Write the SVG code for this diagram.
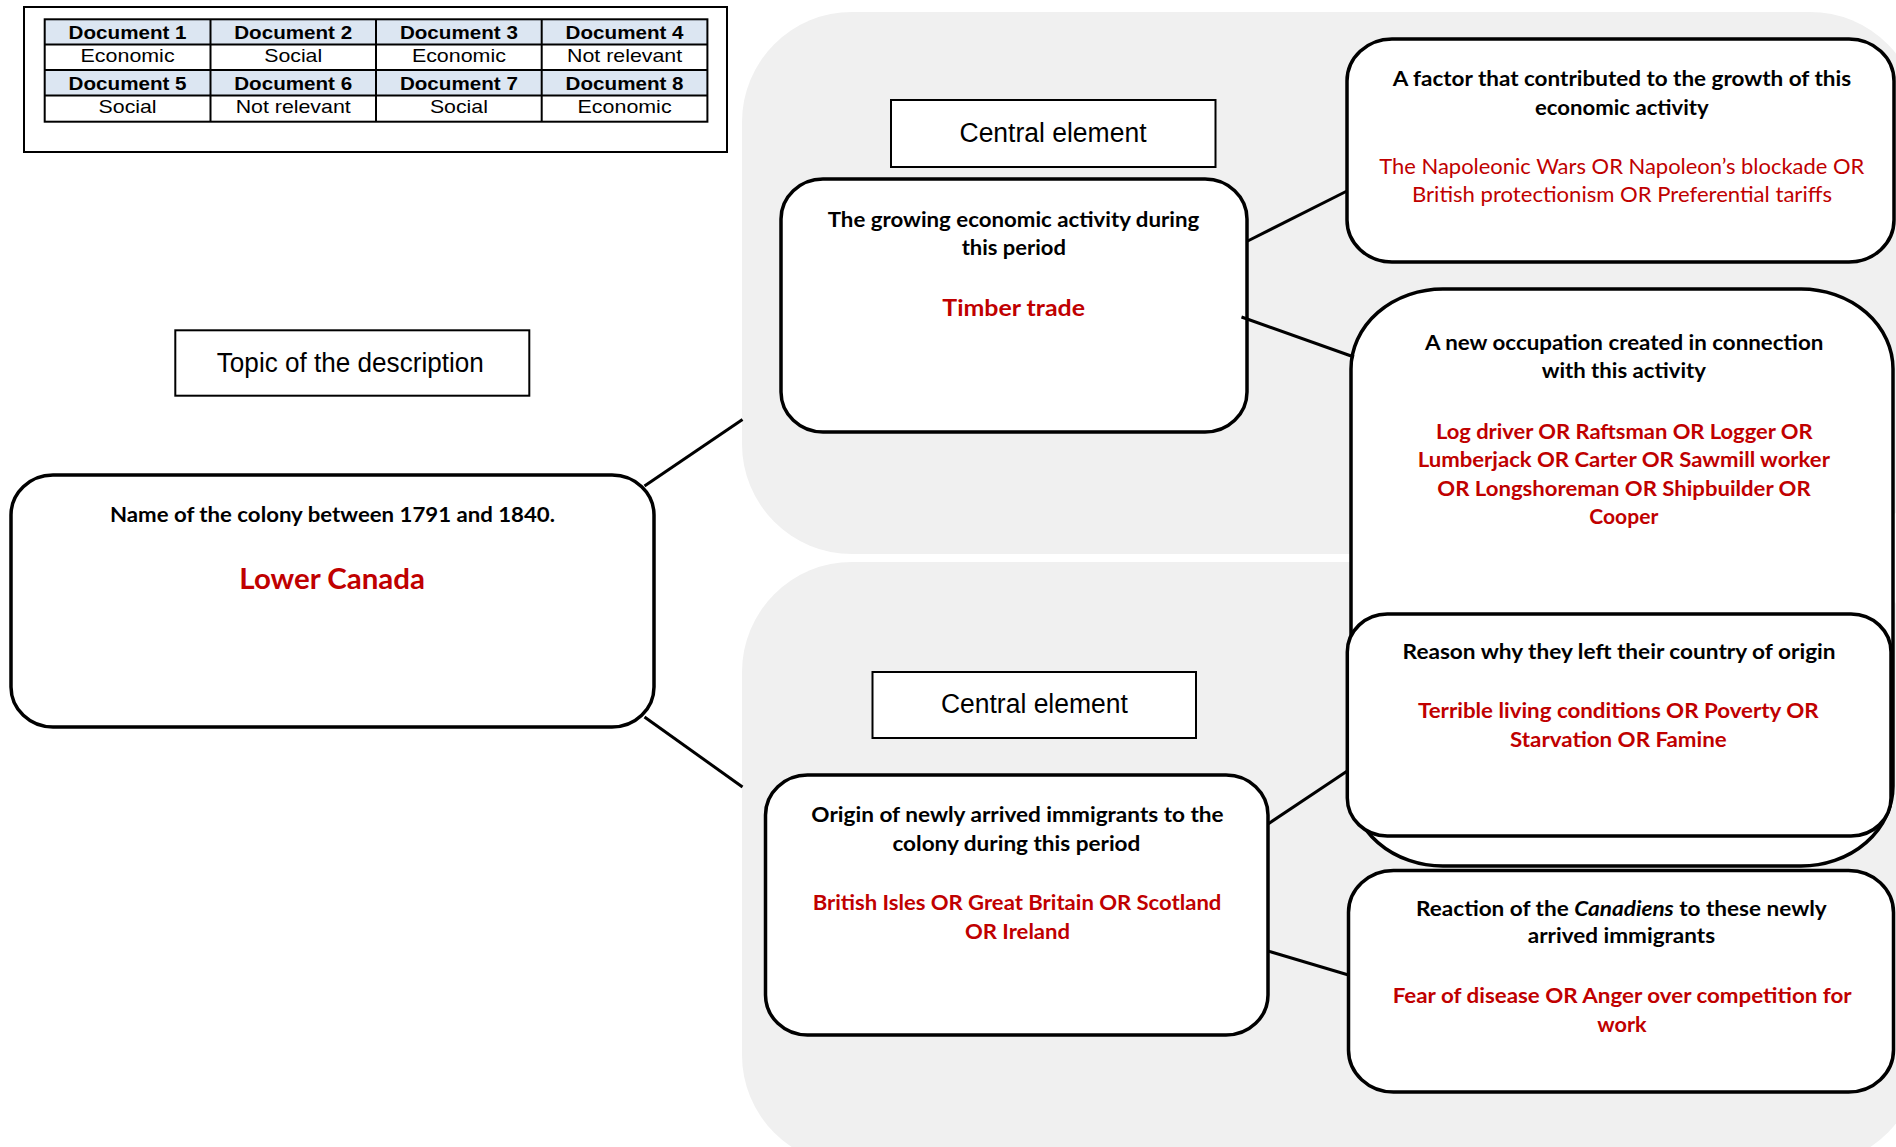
<svg xmlns="http://www.w3.org/2000/svg" width="1896" height="1147" viewBox="0 0 1896 1147">
<style>
.panel{fill:#F0F0F0}
.node{fill:#fff;stroke:#000;stroke-width:3.5}
.lbl{fill:#fff;stroke:#000;stroke-width:2}
.conn{stroke:#000;stroke-width:3;fill:none}
.grid{stroke:#000;stroke-width:2;fill:none}
.c{font-family:Lato,"Liberation Sans",sans-serif;text-anchor:middle;font-size:21px}
.bk{font-weight:700;fill:#000}
.rd{font-weight:700;fill:#C00000}
.rr{font-weight:400;fill:#C00000}
.a{font-family:"Liberation Sans",Arial,sans-serif;text-anchor:middle;fill:#000}
.th{font-weight:700;font-size:18.5px}
.td{font-weight:400;font-size:18.5px}
.big{font-size:27px}
</style>
<rect width="1896" height="1147" fill="#fff"/>
<g id="panels">
<rect class="panel" x="742" y="12" width="1178" height="542" rx="110" ry="110"/>
<rect class="panel" x="742" y="562" width="1178" height="603" rx="110" ry="110"/>
</g>
<g id="legend-table">
<rect x="24" y="7" width="703" height="145" fill="#fff" stroke="#000" stroke-width="2"/>
<rect x="44.7" y="19.3" width="662.7" height="25.2" fill="#DCE6F2"/>
<rect x="44.7" y="70" width="662.7" height="25.5" fill="#DCE6F2"/>
<rect class="grid" x="44.7" y="19.3" width="662.7" height="102.4"/>
<path class="grid" d="M44.7,44.5H707.4M44.7,70H707.4M44.7,95.5H707.4M210.5,19.3V121.7M376,19.3V121.7M541.7,19.3V121.7"/>
<text class="a th" x="127.6" y="39.3" textLength="118" lengthAdjust="spacingAndGlyphs">Document 1</text>
<text class="a th" x="293.2" y="39.3" textLength="118" lengthAdjust="spacingAndGlyphs">Document 2</text>
<text class="a th" x="458.9" y="39.3" textLength="118" lengthAdjust="spacingAndGlyphs">Document 3</text>
<text class="a th" x="624.6" y="39.3" textLength="118" lengthAdjust="spacingAndGlyphs">Document 4</text>
<text class="a td" x="127.6" y="62" textLength="94" lengthAdjust="spacingAndGlyphs">Economic</text>
<text class="a td" x="293.2" y="62" textLength="58" lengthAdjust="spacingAndGlyphs">Social</text>
<text class="a td" x="458.9" y="62" textLength="94" lengthAdjust="spacingAndGlyphs">Economic</text>
<text class="a td" x="624.6" y="62" textLength="115" lengthAdjust="spacingAndGlyphs">Not relevant</text>
<text class="a th" x="127.6" y="90" textLength="118" lengthAdjust="spacingAndGlyphs">Document 5</text>
<text class="a th" x="293.2" y="90" textLength="118" lengthAdjust="spacingAndGlyphs">Document 6</text>
<text class="a th" x="458.9" y="90" textLength="118" lengthAdjust="spacingAndGlyphs">Document 7</text>
<text class="a th" x="624.6" y="90" textLength="118" lengthAdjust="spacingAndGlyphs">Document 8</text>
<text class="a td" x="127.6" y="113" textLength="58" lengthAdjust="spacingAndGlyphs">Social</text>
<text class="a td" x="293.2" y="113" textLength="115" lengthAdjust="spacingAndGlyphs">Not relevant</text>
<text class="a td" x="458.9" y="113" textLength="58" lengthAdjust="spacingAndGlyphs">Social</text>
<text class="a td" x="624.6" y="113" textLength="94" lengthAdjust="spacingAndGlyphs">Economic</text>
</g>
<g id="topic-label">
<rect class="lbl" x="175.3" y="330.3" width="354" height="65.4"/>
<text class="a big" x="350.3" y="372.3" textLength="267" lengthAdjust="spacingAndGlyphs">Topic of the description</text>
</g>
<g id="central-label-1">
<rect class="lbl" x="891" y="100" width="324.5" height="67"/>
<text class="a big" x="1053" y="142.4" textLength="187" lengthAdjust="spacingAndGlyphs">Central element</text>
</g>
<g id="central-label-2">
<rect class="lbl" x="872.5" y="672" width="323.5" height="66"/>
<text class="a big" x="1034.4" y="712.7" textLength="187" lengthAdjust="spacingAndGlyphs">Central element</text>
</g>
<g id="node-colony">
<rect class="node" x="11" y="475" width="643" height="252" rx="42" ry="40"/>
<text class="c bk" x="332.5" y="522.3" textLength="445" lengthAdjust="spacingAndGlyphs">Name of the colony between 1791 and 1840.</text>
<text class="c rd" x="332.2" y="589" style="font-size:29px" textLength="185.7" lengthAdjust="spacingAndGlyphs">Lower Canada</text>
</g>
<g id="node-economic">
<rect class="node" x="781" y="179" width="466" height="253" rx="42" ry="40"/>
<text class="c bk" x="1013.5" y="226.7" textLength="371.6" lengthAdjust="spacingAndGlyphs">The growing economic activity during</text>
<text class="c bk" x="1013.8" y="255" textLength="104.3" lengthAdjust="spacingAndGlyphs">this period</text>
<text class="c rd" x="1013.7" y="315.7" style="font-size:23.5px" textLength="142.7" lengthAdjust="spacingAndGlyphs">Timber trade</text>
</g>
<g id="node-factor">
<rect class="node" x="1347" y="39" width="547" height="223" rx="45" ry="42"/>
<text class="c bk" x="1621.9" y="86" textLength="458.3" lengthAdjust="spacingAndGlyphs">A factor that contributed to the growth of this</text>
<text class="c bk" x="1621.9" y="115" textLength="173.7" lengthAdjust="spacingAndGlyphs">economic activity</text>
<text class="c rr" x="1621.8" y="174.3" textLength="485" lengthAdjust="spacingAndGlyphs">The Napoleonic Wars OR Napoleon’s blockade OR</text>
<text class="c rr" x="1622" y="202.2" textLength="420" lengthAdjust="spacingAndGlyphs">British protectionism OR Preferential tariffs</text>
</g>
<g id="node-occupation">
<rect class="node" x="1351" y="289" width="542" height="577" rx="92" ry="80"/>
<text class="c bk" x="1624.2" y="350" textLength="398.3" lengthAdjust="spacingAndGlyphs">A new occupation created in connection</text>
<text class="c bk" x="1623.8" y="378.3" textLength="164.3" lengthAdjust="spacingAndGlyphs">with this activity</text>
<text class="c rd" x="1624.3" y="439" textLength="376.7" lengthAdjust="spacingAndGlyphs">Log driver OR Raftsman OR Logger OR</text>
<text class="c rd" x="1623.8" y="467.3" textLength="412.3" lengthAdjust="spacingAndGlyphs">Lumberjack OR Carter OR Sawmill worker</text>
<text class="c rd" x="1624" y="495.7" textLength="373.3" lengthAdjust="spacingAndGlyphs">OR Longshoreman OR Shipbuilder OR</text>
<text class="c rd" x="1623.8" y="524" textLength="69" lengthAdjust="spacingAndGlyphs">Cooper</text>
</g>
<g id="node-reason">
<rect class="node" x="1347.3" y="614" width="543.7" height="222" rx="40" ry="38"/>
<text class="c bk" x="1619.1" y="659" textLength="433" lengthAdjust="spacingAndGlyphs">Reason why they left their country of origin</text>
<text class="c rd" x="1618.3" y="718" textLength="400.6" lengthAdjust="spacingAndGlyphs">Terrible living conditions OR Poverty OR</text>
<text class="c rd" x="1618.4" y="747" textLength="216.7" lengthAdjust="spacingAndGlyphs">Starvation OR Famine</text>
</g>
<g id="node-origin">
<rect class="node" x="765.5" y="775" width="502.5" height="260" rx="42" ry="40"/>
<text class="c bk" x="1017.5" y="822" textLength="412.3" lengthAdjust="spacingAndGlyphs">Origin of newly arrived immigrants to the</text>
<text class="c bk" x="1016.4" y="851" textLength="247.9" lengthAdjust="spacingAndGlyphs">colony during this period</text>
<text class="c rd" x="1017" y="910" textLength="408.7" lengthAdjust="spacingAndGlyphs">British Isles OR Great Britain OR Scotland</text>
<text class="c rd" x="1017.5" y="939" textLength="105" lengthAdjust="spacingAndGlyphs">OR Ireland</text>
</g>
<g id="node-reaction">
<rect class="node" x="1348.5" y="870.5" width="545" height="221.5" rx="45" ry="42"/>
<text class="c bk" x="1621.4" y="916" textLength="410.7" lengthAdjust="spacingAndGlyphs">Reaction of the <tspan font-style="italic">Canadiens</tspan> to these newly</text>
<text class="c bk" x="1621.4" y="943.3" textLength="187.3" lengthAdjust="spacingAndGlyphs">arrived immigrants</text>
<text class="c rd" x="1622.2" y="1003.3" textLength="459" lengthAdjust="spacingAndGlyphs">Fear of disease OR Anger over competition for</text>
<text class="c rd" x="1622" y="1031.7" textLength="49.3" lengthAdjust="spacingAndGlyphs">work</text>
</g>
<g id="connectors">
<path class="conn" d="M644.5,486L742.5,419.6"/>
<path class="conn" d="M644.5,717L742.5,787"/>
<path class="conn" d="M1246.7,241.5L1347,191"/>
<path class="conn" d="M1241.5,317L1354,357"/>
<path class="conn" d="M1268,824L1347.3,771"/>
<path class="conn" d="M1268,951L1348.5,975"/>
</g>
</svg>
